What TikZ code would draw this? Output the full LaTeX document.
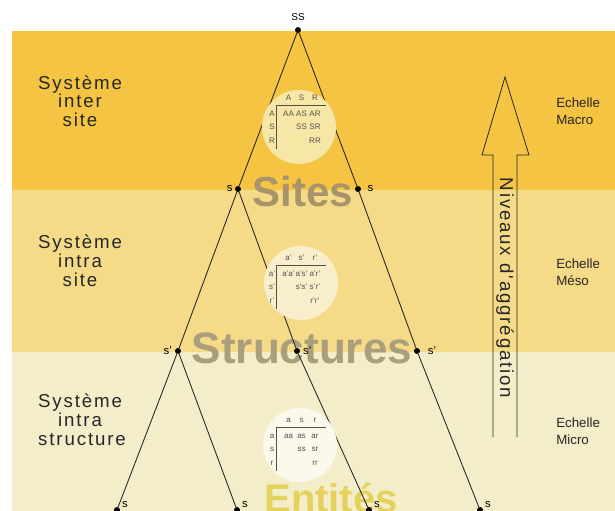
\documentclass[tikz,border=0pt]{standalone}
\usepackage{fontspec}
\setmainfont{Liberation Sans}
\newfontfamily\spacedfont[LetterSpace=10]{Liberation Sans}
\definecolor{bandA}{HTML}{F5C443}
\definecolor{bandB}{HTML}{F5DA88}
\definecolor{bandC}{HTML}{F4EDCA}
\definecolor{sitesC}{HTML}{A8946A}
\definecolor{structC}{HTML}{AA9F7C}
\definecolor{entC}{HTML}{E5D25C}
\definecolor{circA}{HTML}{F6E7A7}
\definecolor{circB}{HTML}{F8EECB}
\definecolor{circC}{HTML}{FBF8EC}
\definecolor{tabC}{HTML}{505050}
\newcommand\drawtab[5]{%
  \begin{scope}[shift={(0,#1)}]
    \draw[tabline] (276,0) -- (326,0);
    \draw[tabline] (276,0) -- (276,44);
    \node[tab] (#2h1) at (288.5,-5) {#3};
    \node[tab] (#2h2) at (301.5,-5) {#4};
    \node[tab] (#2h3) at (315,-5) {#5};
    \node[tab] (#2r1) at (272,11) {#3};
    \node[tab] (#2r2) at (272,24.5) {#4};
    \node[tab] (#2r3) at (272,38) {#5};
    \node[tab] (#2c11) at (288.5,11) {#3#3};
    \node[tab] (#2c12) at (301.5,11) {#3#4};
    \node[tab] (#2c13) at (315,11) {#3#5};
    \node[tab] (#2c22) at (301.5,24.5) {#4#4};
    \node[tab] (#2c23) at (315,24.5) {#4#5};
    \node[tab] (#2c33) at (315,38) {#5#5};
  \end{scope}}
\begin{document}
\begin{tikzpicture}[x=0.75pt,y=-0.75pt,
  dot/.style={circle,fill=black,inner sep=0pt,minimum size=4.5pt},
  lbl/.style={font=\fontsize{8.5}{10}\selectfont,inner sep=0.5pt,text=black},
  edge/.style={draw=black!85,line width=0.65pt},
  sys/.style={font=\spacedfont\fontsize{14}{16}\selectfont,anchor=base,inner sep=0pt,text=black!85},
  ech/.style={font=\fontsize{10}{12}\selectfont,anchor=base west,inner sep=0pt,text=black!85},
  bigtext/.style={font=\bfseries\fontsize{#1}{#1}\selectfont,anchor=base,inner sep=0pt},
  tab/.style={font=\fontsize{6}{7}\selectfont,inner sep=0pt,text=tabC,anchor=base},
  tabline/.style={draw=tabC,line width=0.6pt},
  bubble/.style={circle,inner sep=0pt,minimum size=55.5pt},
  arrowline/.style={draw=black!85,line width=0.6pt,line join=miter}
]
\useasboundingbox (0,0) rectangle (615,511);
\fill[white] (0,0) rectangle (615,511);
% bands
\fill[bandA] (12,31) rectangle (615,190);
\fill[bandB] (12,190) rectangle (615,352);
\fill[bandC] (12,352) rectangle (615,511);
% big level names
\node[bigtext=31.5,text=sitesC] (tSites) at (303,206) {Sites};
\node[bigtext=33,text=structC] (tStruct) at (302,363) {Structures};
\node[bigtext=30,text=entC] (tEnt) at (331,512) {Entités};
% tree nodes
\node[dot,label={[lbl,font=\fontsize{7.5}{9}\selectfont,label distance=4pt]above:SS}] (SS) at (298,30) {};
\node[dot,label={[lbl,label distance=1pt]left:s}] (sL) at (238,189) {};
\node[dot,label={[lbl,label distance=4pt]right:s}] (sR) at (358,189) {};
\node[dot,label={[lbl,label distance=1.5pt]left:s'}] (pL) at (178,351) {};
\node[dot,label={[lbl,label distance=1.5pt]right:s'}] (pM) at (297,351) {};
\node[dot,label={[lbl,label distance=5pt]right:s'}] (pR) at (417,351) {};
\node[dot,label={[lbl,label distance=1pt]25:s}] (b1) at (117,510) {};
\node[dot,label={[lbl,label distance=1pt]25:s}] (b2) at (237,510) {};
\node[dot,label={[lbl,label distance=1pt]25:s}] (b3) at (369,510) {};
\node[dot,label={[lbl,label distance=1pt]25:s}] (b4) at (480,510) {};
% edges
\draw[edge] (SS) -- (sL);
\draw[edge] (SS) -- (sR);
\draw[edge] (sL) -- (pL);
\draw[edge] (sL) -- (pM);
\draw[edge] (sR) -- (pR);
\draw[edge] (pL) -- (b1);
\draw[edge] (pL) -- (b2);
\draw[edge] (pM) -- (b3);
\draw[edge] (pR) -- (b4);
% bubbles with tables
\node[bubble,fill=circA] (cA) at (299,127) {};
\node[bubble,fill=circB] (cB) at (301,283) {};
\node[bubble,fill=circC] (cC) at (300,445) {};
\drawtab{105}{tA}{A}{S}{R}
\drawtab{265}{tB}{a'}{s'}{r'}
\drawtab{427}{tC}{a}{s}{r}
% left labels
\node[sys] (sysAa) at (80,89) {Système};
\node[sys] (sysAb) at (80,107.5) {inter};
\node[sys] (sysAc) at (80,126) {site};
\node[sys] (sysBa) at (80,248) {Système};
\node[sys] (sysBb) at (80,267) {intra};
\node[sys] (sysBc) at (80,286) {site};
\node[sys] (sysCa) at (80,407) {Système};
\node[sys] (sysCb) at (80,426) {intra};
\node[sys] (sysCc) at (82,445) {structure};
% right labels
\node[ech] (echAa) at (556,107) {Echelle};
\node[ech] (echAb) at (556,124) {Macro};
\node[ech] (echBa) at (556,268) {Echelle};
\node[ech] (echBb) at (556,285) {Méso};
\node[ech] (echCa) at (556,427) {Echelle};
\node[ech] (echCb) at (556,444) {Micro};
% big hollow arrow
\draw[arrowline] (493,437) -- (493,155) -- (482,155) -- (505,77) -- (529,155) -- (517,155) -- (517,437);
\node[font=\spacedfont\fontsize{14}{16}\selectfont,inner sep=0pt,text=black!85,rotate=-90] (niv) at (505,288) {Niveaux d'aggrégation};
\end{tikzpicture}
\end{document}
